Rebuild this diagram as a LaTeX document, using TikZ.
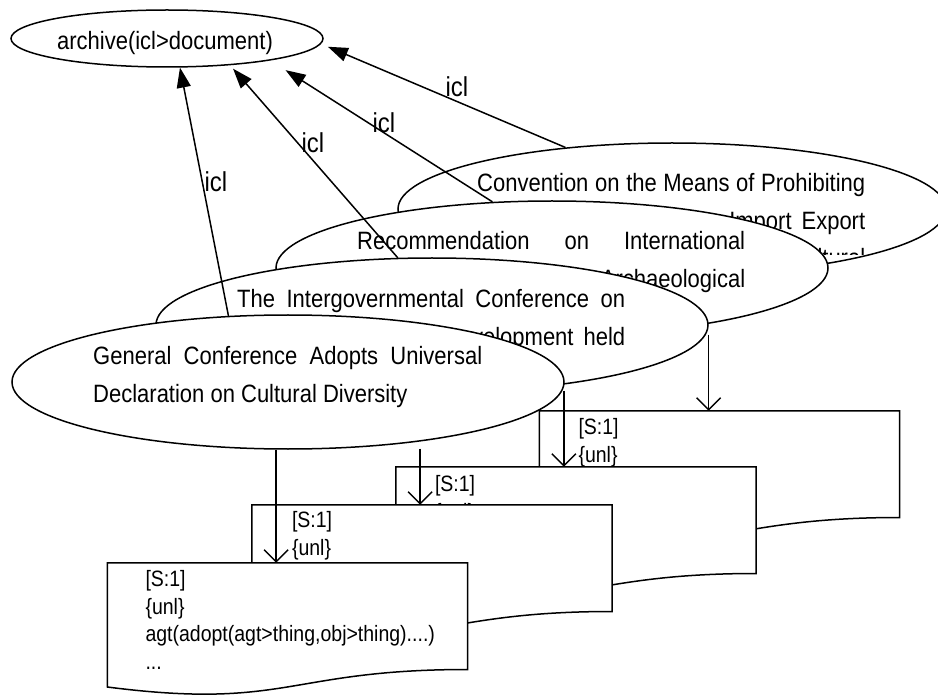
\documentclass[tikz,border=0pt]{standalone}
\usepackage{fontspec}
\usepackage{graphicx}
\setmainfont{Liberation Sans}
\usetikzlibrary{shapes.geometric,arrows.meta,calc}
\newcommand\vst[1]{\scalebox{1}[1.14]{#1}}
\newcommand\docpath[1]{%
  \filldraw[docline] (#1.north west) -- (#1.north east)
   -- ([yshift=-106.7pt]#1.north east)
   .. controls ([yshift=-106.7pt]#1.north) and ([yshift=-147.4pt]#1.north)
   .. ([yshift=-124.2pt]#1.north west) -- cycle;}
\begin{document}
\begin{tikzpicture}[x=1pt,y=-1pt,
  docline/.style={line width=1.5pt, draw=black, fill=white},
  docbox/.style={minimum width=360pt, minimum height=133pt, inner sep=0pt},
  bigell/.style={ellipse, draw, line width=1.5pt, fill=white, inner sep=0pt, minimum width=552pt, minimum height=134pt},
  elltext/.style={inner sep=0pt, anchor=base west, font=\fontsize{22pt}{32.5pt}\selectfont},
  doctext/.style={inner sep=0pt, anchor=base west, font=\fontsize{19.5pt}{24.1pt}\selectfont},
  lbl/.style={inner sep=0pt, anchor=base, font=\fontsize{24pt}{28pt}\selectfont},
  toarch/.style={line width=1.5pt, -{Triangle[length=20pt,width=14pt]}},
  todoc/.style={line width=1.5pt, -{Straight Barb[length=12pt,width=24pt,line width=1.5pt]}},
]
\fill[white] (0,0) rectangle (938,695);
\useasboundingbox (0,0) rectangle (938,695);

% documents, back to front
\node[docbox] (d4) at (719.5,477.5) {};
\node[docbox] (d3) at (576,533.5) {};
\node[docbox] (d2) at (432,571.5) {};
\node[docbox] (d1) at (287.5,629.5) {};

\docpath{d4}
\node[doctext] (t4) at ($(d4.north west)+(39,24)$) {\vst{\vtop{\hbox{[S:1]}\hbox{\{unl\}}}}};
\docpath{d3}
\node[doctext] (t3) at ($(d3.north west)+(39,25)$) {\vst{\vtop{\hbox{[S:1]}\hbox{\{unl\}}}}};
\docpath{d2}
\node[doctext] (t2) at ($(d2.north west)+(40,23)$) {\vst{\vtop{\hbox{[S:1]}\hbox{\{unl\}}}}};
\docpath{d1}
\node[doctext] (t1) at ($(d1.north west)+(38,24)$) {\vst{\vtop{\hbox{[S:1]}\hbox{\{unl\}}\hbox{agt(adopt(agt>thing,obj>thing)....)}\hbox{...}}}};

% Convention
\node[bigell, minimum width=548pt, minimum height=132pt] (conv) at (672,209) {};
\begin{scope}
\clip ($(conv.center)+(-200,-48)$) rectangle ($(conv.center)+(200,46)$);
\node[elltext] (convtext) at ($(conv.center)+(-195,-17)$) {\vst{\vtop{\hbox to 388pt{Convention on the Means of Prohibiting}\hbox to 388pt{\hfill Import\hskip 10pt Export}\hbox to 388pt{\hfill Cultural}}}};
\end{scope}
\coordinate (cs) at (conv.-61.2);
\draw[todoc, shorten <=59.6pt] (cs) -- (cs |- d4.north);

% Recommendation
\node[bigell] (rec) at (552,268) {};
\begin{scope}
\clip ($(rec.center)+(-200,-48)$) rectangle ($(rec.center)+(200,47)$);
\node[elltext] (rectext) at ($(rec.center)+(-195,-18)$) {\vst{\vtop{\hbox to 388pt{Recommendation on International}\hbox to 388pt{\hfill Archaeological}}}};
\end{scope}
\coordinate (rs) at (rec.-80.7);
\draw[todoc, shorten <=55pt] (rs) -- (rs |- d3.north);

% Intergovernmental
\node[bigell] (ig) at (432,325) {};
\begin{scope}
\clip ($(ig.center)+(-200,-48)$) rectangle ($(ig.center)+(200,47)$);
\node[elltext] (igtext) at ($(ig.center)+(-195,-17)$) {\vst{\vtop{\hbox to 388pt{The Intergovernmental Conference on}\hbox to 388pt{\hfill Development\hskip 10pt held}}}};
\end{scope}
\coordinate (is) at (ig.-100.2);
\draw[todoc, shorten <=56pt] (is) -- (is |- d2.north);

% General Conference
\node[bigell] (gen) at (288,382) {};
\node[elltext] (gentext) at ($(gen.center)+(-195,-17)$) {\vst{\vtop{\hbox to 389pt{General Conference Adopts Universal}\hbox{Declaration on Cultural Diversity}}}};
\coordinate (gs) at (gen.-100.2);
\draw[todoc] (gs) -- (gs |- d1.north);

% archive
\node[ellipse, draw, line width=1.5pt, fill=white, inner sep=0pt, minimum width=312pt, minimum height=57pt] (archive) at (167,38.5) {};
\node[inner sep=0pt, anchor=base, font=\fontsize{22pt}{26pt}\selectfont] (archtext) at (165,50) {\vst{archive(icl>document)}};

\draw[toarch] (gen.132.5) -- (archive.-66);
\draw[toarch, shorten >=4.5pt] (ig.117.8) -- (archive.-23.7);
\draw[toarch, shorten >=18pt] (rec.132.5) -- (archive.-12.9);
\draw[toarch, shorten >=7.4pt] (conv.150.9) -- (archive.-2.7);

\node[lbl] (l1) at (216,192) {\vst{icl}};
\node[lbl] (l2) at (313,153) {\vst{icl}};
\node[lbl] (l3) at (384,133) {\vst{icl}};
\node[lbl] (l4) at (457,97) {\vst{icl}};
\end{tikzpicture}
\end{document}
